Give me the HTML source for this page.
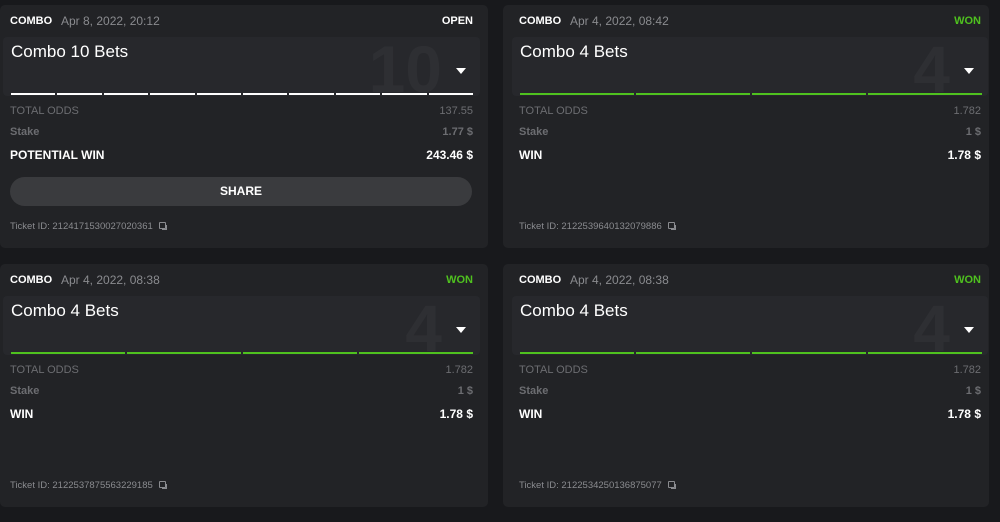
<!DOCTYPE html>
<html><head><style>
*{margin:0;padding:0;box-sizing:border-box}
body{width:1000px;height:522px;background:#18191c;font-family:"Liberation Sans",sans-serif;position:relative;overflow:hidden}
.card{position:absolute;width:488px;height:243px;background:#222326;border-radius:5px}
.a{position:absolute;white-space:nowrap}
.box{position:absolute;left:3px;top:32px;width:477px;height:59px;background:#27282c;border-radius:4px;overflow:hidden}
.big{position:absolute;right:38px;top:-6px;font-size:66px;font-weight:bold;color:#2e2f33}
.tri{position:absolute;right:14px;top:31px;width:0;height:0;border-left:5px solid transparent;border-right:5px solid transparent;border-top:6px solid #fff}
.h{top:10px;font-size:11px;font-weight:bold;color:#fff}
.d{top:9px;font-size:12px;color:#8a8b8f}
.st{top:10px;font-size:11px;font-weight:bold}
.t{top:37px;font-size:17px;color:#fff}
.lines{position:absolute;top:88px;height:2px;display:flex;gap:2px}
.lines div{flex:1}
.lab1{top:100px;font-size:11px;color:#6c6d71}
.lab2{top:121px;font-size:11px;font-weight:bold;color:#6c6d71}
.lab3{top:143px;font-size:12px;font-weight:bold;color:#fff}
.tid{font-size:9.5px;color:#8a8b8f}
.cp{display:inline-block;width:7px;height:7px;border:1px solid #8a8b8f;margin-left:6px;border-radius:1px;box-shadow:2px 2px 0 -1px #8a8b8f}
</style></head><body>

<div class="card" style="left:0;top:5px">
 <div class="a h" style="left:10px">COMBO</div><div class="a d" style="left:61px">Apr 8, 2022, 20:12</div>
 <div class="a st" style="right:15px;color:#fff">OPEN</div>
 <div class="box"><div class="big">10</div><div class="tri"></div></div>
 <div class="a t" style="left:11px">Combo 10 Bets</div>
 <div class="lines" style="left:11px;width:462px"><div style="background:#fff"></div><div style="background:#fff"></div><div style="background:#fff"></div><div style="background:#fff"></div><div style="background:#fff"></div><div style="background:#fff"></div><div style="background:#fff"></div><div style="background:#fff"></div><div style="background:#fff"></div><div style="background:#fff"></div></div>
 <div class="a lab1" style="left:10px">TOTAL ODDS</div><div class="a lab1" style="right:15px">137.55</div>
 <div class="a lab2" style="left:10px">Stake</div><div class="a lab2" style="right:15px">1.77 $</div>
 <div class="a lab3" style="left:10px">POTENTIAL WIN</div><div class="a lab3" style="right:15px">243.46 $</div>
 <div class="a" style="left:10px;top:172px;width:462px;height:29px;background:#3a3b3e;border-radius:15px;color:#fff;font-size:12px;font-weight:bold;text-align:center;line-height:29px">SHARE</div>
 <div class="a tid" style="left:10px;top:216px">Ticket ID: 2124171530027020361<span class="cp"></span></div>
</div>

<div class="card" style="left:503px;top:5px;width:486px">
 <div class="a h" style="left:16px">COMBO</div><div class="a d" style="left:67px">Apr 4, 2022, 08:42</div>
 <div class="a st" style="right:8px;color:#4fc11f">WON</div>
 <div class="box" style="left:9px;width:476px"><div class="big">4</div><div class="tri"></div></div>
 <div class="a t" style="left:17px">Combo 4 Bets</div>
 <div class="lines" style="left:17px;width:462px"><div style="background:#4fc11f"></div><div style="background:#4fc11f"></div><div style="background:#4fc11f"></div><div style="background:#4fc11f"></div></div>
 <div class="a lab1" style="left:16px">TOTAL ODDS</div><div class="a lab1" style="right:8px">1.782</div>
 <div class="a lab2" style="left:16px">Stake</div><div class="a lab2" style="right:8px">1 $</div>
 <div class="a lab3" style="left:16px">WIN</div><div class="a lab3" style="right:8px">1.78 $</div>
 <div class="a tid" style="left:16px;top:216px">Ticket ID: 2122539640132079886<span class="cp"></span></div>
</div>

<div class="card" style="left:0;top:264px">
 <div class="a h" style="left:10px">COMBO</div><div class="a d" style="left:61px">Apr 4, 2022, 08:38</div>
 <div class="a st" style="right:15px;color:#4fc11f">WON</div>
 <div class="box"><div class="big">4</div><div class="tri"></div></div>
 <div class="a t" style="left:11px">Combo 4 Bets</div>
 <div class="lines" style="left:11px;width:462px"><div style="background:#4fc11f"></div><div style="background:#4fc11f"></div><div style="background:#4fc11f"></div><div style="background:#4fc11f"></div></div>
 <div class="a lab1" style="left:10px">TOTAL ODDS</div><div class="a lab1" style="right:15px">1.782</div>
 <div class="a lab2" style="left:10px">Stake</div><div class="a lab2" style="right:15px">1 $</div>
 <div class="a lab3" style="left:10px">WIN</div><div class="a lab3" style="right:15px">1.78 $</div>
 <div class="a tid" style="left:10px;top:216px">Ticket ID: 2122537875563229185<span class="cp"></span></div>
</div>

<div class="card" style="left:503px;top:264px;width:486px">
 <div class="a h" style="left:16px">COMBO</div><div class="a d" style="left:67px">Apr 4, 2022, 08:38</div>
 <div class="a st" style="right:8px;color:#4fc11f">WON</div>
 <div class="box" style="left:9px;width:476px"><div class="big">4</div><div class="tri"></div></div>
 <div class="a t" style="left:17px">Combo 4 Bets</div>
 <div class="lines" style="left:17px;width:462px"><div style="background:#4fc11f"></div><div style="background:#4fc11f"></div><div style="background:#4fc11f"></div><div style="background:#4fc11f"></div></div>
 <div class="a lab1" style="left:16px">TOTAL ODDS</div><div class="a lab1" style="right:8px">1.782</div>
 <div class="a lab2" style="left:16px">Stake</div><div class="a lab2" style="right:8px">1 $</div>
 <div class="a lab3" style="left:16px">WIN</div><div class="a lab3" style="right:8px">1.78 $</div>
 <div class="a tid" style="left:16px;top:216px">Ticket ID: 2122534250136875077<span class="cp"></span></div>
</div>

</body></html>
